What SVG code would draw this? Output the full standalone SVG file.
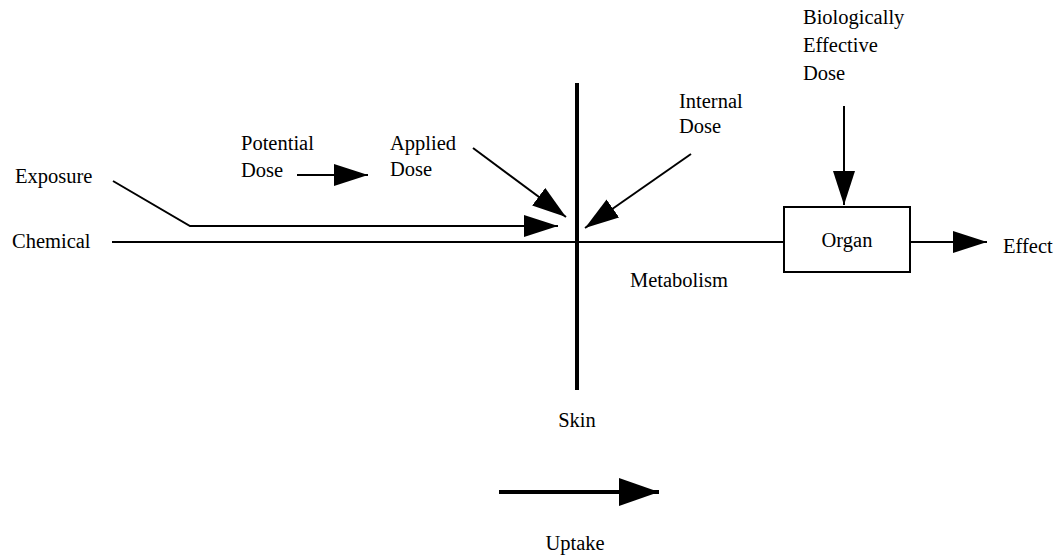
<svg xmlns="http://www.w3.org/2000/svg" width="1057" height="555" viewBox="0 0 1057 555">
<style>
text{font-family:"Liberation Serif","Times New Roman",serif;font-size:20.5px;fill:#000}
.ln{stroke:#000;stroke-width:2;fill:none}
.thick{stroke:#000;stroke-width:4;fill:none}
</style>
<defs>
<marker id="ah" markerUnits="userSpaceOnUse" markerWidth="36" markerHeight="24" refX="34" refY="11" orient="auto"><path d="M0,0 L34,11 L0,22 z" fill="#000"/></marker>
<marker id="ahb" markerUnits="userSpaceOnUse" markerWidth="42" markerHeight="30" refX="40" refY="14" orient="auto"><path d="M0,0 L40,14 L0,28 z" fill="#000"/></marker>
</defs>
<g id="connectors">
<line class="ln" x1="112" y1="242" x2="784" y2="242"/>
<polyline class="ln" points="113,181 190,226 558,226" marker-end="url(#ah)"/>
<line class="ln" x1="297" y1="175" x2="368" y2="175" marker-end="url(#ah)"/>
<line class="ln" x1="473" y1="148" x2="566" y2="217" marker-end="url(#ah)"/>
<line class="ln" x1="691" y1="154" x2="585" y2="228" marker-end="url(#ah)"/>
<line class="ln" x1="844" y1="106" x2="844" y2="205" marker-end="url(#ah)"/>
<line class="ln" x1="910" y1="242" x2="987" y2="242" marker-end="url(#ah)"/>
<line class="thick" x1="577" y1="83" x2="577" y2="390"/>
<line class="thick" x1="499" y1="492" x2="659" y2="492" marker-end="url(#ahb)"/>
</g>
<g id="chemical"><text x="12" y="248">Chemical</text></g>
<g id="exposure"><text x="15" y="183">Exposure</text></g>
<g id="potential-dose"><text x="241" y="150">Potential</text><text x="241" y="177">Dose</text></g>
<g id="applied-dose"><text x="390" y="150">Applied</text><text x="390" y="176">Dose</text></g>
<g id="internal-dose"><text x="679" y="108">Internal</text><text x="679" y="133">Dose</text></g>
<g id="bed"><text x="803" y="24">Biologically</text><text x="803" y="52">Effective</text><text x="803" y="80">Dose</text></g>
<g id="organ"><rect x="784" y="207" width="126" height="65" fill="#fff" stroke="#000" stroke-width="2"/><text x="847" y="247" text-anchor="middle">Organ</text></g>
<g id="effect"><text x="1003" y="253">Effect</text></g>
<g id="metabolism"><text x="630" y="287">Metabolism</text></g>
<g id="skin"><text x="577" y="427" text-anchor="middle">Skin</text></g>
<g id="uptake"><text x="575" y="550" text-anchor="middle">Uptake</text></g>
</svg>
